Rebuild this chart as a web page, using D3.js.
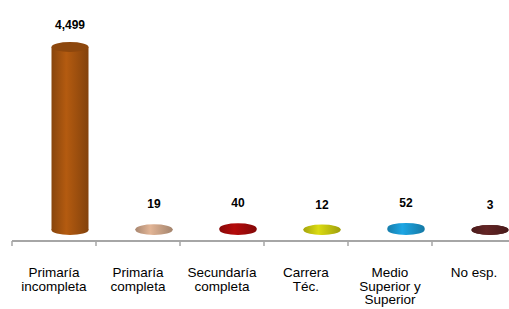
<!DOCTYPE html>
<html>
<head>
<meta charset="utf-8">
<script src="https://cdn.jsdelivr.net/npm/d3@7"></script>
<style>
  body { margin: 0; background: #fff; }
  text { font-family: "Liberation Sans", Arial, sans-serif; }
</style>
</head>
<body>
<div id="chart"></div>
<script>
var categories = [
  ["Primaría", "incompleta"],
  ["Primaría", "completa"],
  ["Secundaría", "completa"],
  ["Carrera", "Téc."],
  ["Medio", "Superior y", "Superior"],
  ["No esp."]
];
var values = [4499, 19, 40, 12, 52, 3];
var colors = ["#a8550f", "#d2a98c", "#a80a0a", "#cccc10", "#1b9bd4", "#5c2222"];
var valueLabels = ["4,499", "19", "40", "12", "52", "3"];

function run() {
  var width = 509,
    height = 309;

  var svg = d3
    .select("#chart")
    .append("svg")
    .attr("width", width)
    .attr("height", height);

  var x = d3
    .scaleBand()
    .domain(d3.range(categories.length))
    .range([12, 516])
    .padding(0);

  var y = d3.scaleLinear().domain([0, 4499]).range([230, 47]);

  var rx = 18.5,
    ry = 5,
    depth = 16;

  var defs = svg.append("defs");
  colors.forEach(function(c, i) {
    var g = defs
      .append("linearGradient")
      .attr("id", "grad" + i)
      .attr("x1", "0%")
      .attr("x2", "100%");
    var base = d3.color(c);
    g.append("stop").attr("offset", "0%").attr("stop-color", base.darker(0.6));
    g.append("stop").attr("offset", "40%").attr("stop-color", base.brighter(0.2));
    g.append("stop").attr("offset", "100%").attr("stop-color", base.darker(0.7));
  });

  // axis
  svg
    .append("line")
    .attr("x1", 12)
    .attr("x2", width)
    .attr("y1", 241)
    .attr("y2", 241)
    .style("stroke", "#a6a6a6")
    .style("stroke-width", 2);

  svg
    .append("g")
    .selectAll("line")
    .data(d3.range(categories.length))
    .enter()
    .append("line")
    .attr("x1", function(d) { return x(d); })
    .attr("x2", function(d) { return x(d); })
    .attr("y1", 241)
    .attr("y2", 246)
    .style("stroke", "#a6a6a6")
    .style("stroke-width", 1.5);

  var bars = svg
    .append("g")
    .selectAll("g")
    .data(values)
    .enter()
    .append("g")
    .attr("transform", function(d, i) {
      return "translate(" + (x(i) + x.bandwidth() / 2 + depth) + ",0)";
    });

  // body
  bars
    .append("rect")
    .attr("x", -rx)
    .attr("width", rx * 2)
    .attr("y", function(d) { return y(d); })
    .attr("height", function(d) { return y(0) - y(d); })
    .style("fill", function(d, i) { return "url(#grad" + i + ")"; });

  // bottom cap
  bars
    .append("ellipse")
    .attr("cx", 0)
    .attr("cy", y(0))
    .attr("rx", rx)
    .attr("ry", ry)
    .style("fill", function(d, i) { return "url(#grad" + i + ")"; });

  // top cap
  bars
    .append("ellipse")
    .attr("cx", 0)
    .attr("cy", function(d) { return y(d); })
    .attr("rx", rx)
    .attr("ry", ry)
    .style("fill", function(d, i) {
      return values[i] > 1000 ? d3.color(colors[i]).darker(0.5) : "url(#grad" + i + ")";
    });

  // value labels
  bars
    .append("text")
    .attr("text-anchor", "middle")
    .attr("y", function(d) { return d > 1000 ? y(d) - 18 : y(d) - 21; })
    .style("font-size", "12px")
    .style("font-weight", "bold")
    .style("fill", "#000")
    .text(function(d, i) { return valueLabels[i]; });

  // category labels
  var cat = svg
    .append("g")
    .selectAll("text")
    .data(categories)
    .enter()
    .append("text")
    .attr("text-anchor", "middle")
    .attr("x", function(d, i) { return x(i) + x.bandwidth() / 2; })
    .attr("y", 277)
    .style("font-size", "13.5px")
    .style("fill", "#000");

  cat
    .selectAll("tspan")
    .data(function(d) { return d; })
    .enter()
    .append("tspan")
    .attr("x", function() { return d3.select(this.parentNode).attr("x"); })
    .attr("dy", function(d, j) { return j === 0 ? 0 : 13.5; })
    .text(function(d) { return d; });
}

(function() {
  run();
})();
</script>
</body>
</html>
